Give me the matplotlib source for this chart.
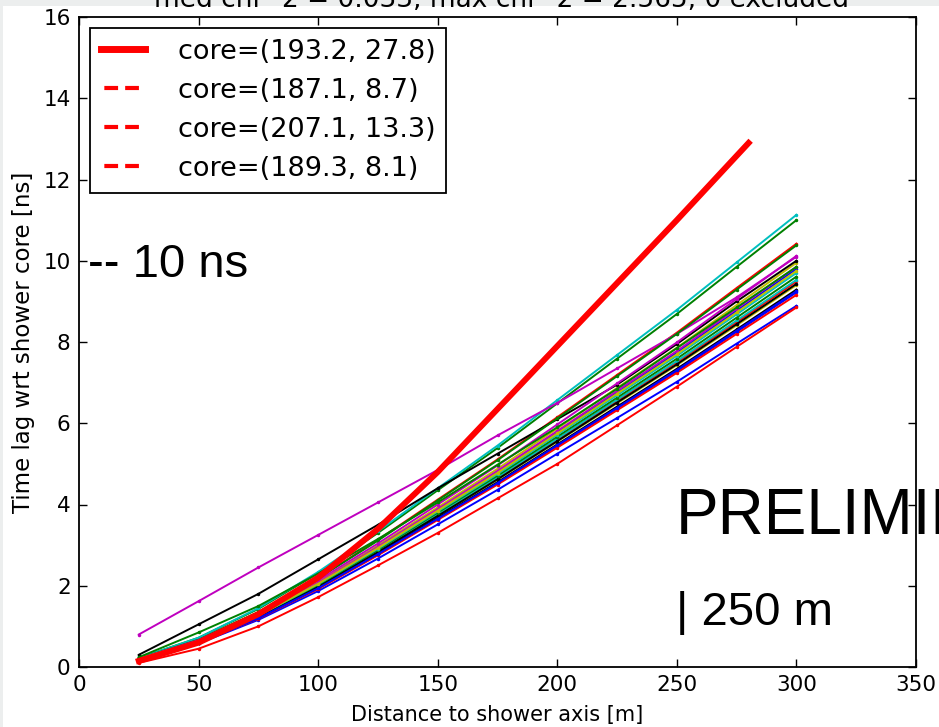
import matplotlib
matplotlib.use("Agg")
import matplotlib.pyplot as plt
from matplotlib.patches import Rectangle

# ---------------- data ----------------
distances = [25, 50, 75, 100, 125, 150, 175, 200, 225, 250, 275, 300]

core_label = "core=(193.2, 27.8)"
core_x = [25, 50, 75, 100, 125, 150, 175, 200, 225, 250, 280]
core_t = [0.15, 0.6, 1.3, 2.2, 3.4, 4.8, 6.35, 7.9, 9.45, 11.0, 12.9]

other_cores = ["core=(187.1, 8.7)", "core=(207.1, 13.3)", "core=(189.3, 8.1)"]

antenna_colors = ["b", "g", "r", "c", "m", "y", "k",
                  "b", "g", "r", "c", "m", "y", "k",
                  "b", "g", "r", "c", "m", "y", "k",
                  "b", "g", "r"]

antenna_lags = [
    [0.20, 0.64, 1.27, 2.06, 2.94, 3.87, 4.80, 5.78, 6.76, 7.74, 8.77, 9.80],
    [0.22, 0.72, 1.43, 2.31, 3.30, 4.35, 5.39, 6.49, 7.59, 8.69, 9.85, 11.00],
    [0.21, 0.68, 1.35, 2.19, 3.13, 4.12, 5.11, 6.15, 7.19, 8.23, 9.33, 10.42],
    [0.22, 0.72, 1.45, 2.34, 3.34, 4.40, 5.45, 6.57, 7.68, 8.79, 9.96, 11.13],
    [0.80, 1.62, 2.45, 3.25, 4.05, 4.85, 5.70, 6.50, 7.35, 8.20, 9.10, 10.10],
    [0.20, 0.65, 1.29, 2.09, 2.99, 3.93, 4.88, 5.87, 6.87, 7.86, 8.91, 9.95],
    [0.30, 1.05, 1.80, 2.65, 3.50, 4.40, 5.25, 6.10, 6.95, 7.95, 9.00, 10.00],
    [0.18, 0.60, 1.20, 1.94, 2.77, 3.64, 4.52, 5.44, 6.36, 7.28, 8.25, 9.22],
    [0.21, 0.67, 1.35, 2.18, 3.11, 4.10, 5.09, 6.12, 7.16, 8.20, 9.29, 10.38],
    [0.19, 0.62, 1.23, 1.99, 2.85, 3.75, 4.65, 5.60, 6.55, 7.50, 8.49, 9.49],
    [0.19, 0.62, 1.24, 2.00, 2.86, 3.76, 4.67, 5.62, 6.58, 7.53, 8.53, 9.53],
    [0.20, 0.66, 1.32, 2.13, 3.04, 4.00, 4.96, 5.97, 6.98, 7.99, 9.06, 10.12],
    [0.19, 0.61, 1.22, 1.97, 2.82, 3.71, 4.61, 5.55, 6.49, 7.43, 8.41, 9.40],
    [0.19, 0.61, 1.23, 1.98, 2.83, 3.72, 4.62, 5.56, 6.51, 7.45, 8.44, 9.43],
    [0.18, 0.58, 1.16, 1.87, 2.67, 3.51, 4.36, 5.25, 6.13, 7.02, 7.96, 8.89],
    [0.19, 0.62, 1.25, 2.02, 2.88, 3.80, 4.71, 5.67, 6.63, 7.59, 8.60, 9.61],
    [0.18, 0.60, 1.19, 1.92, 2.75, 3.62, 4.49, 5.40, 6.32, 7.24, 8.20, 9.16],
    [0.19, 0.63, 1.26, 2.04, 2.91, 3.83, 4.75, 5.72, 6.69, 7.66, 8.68, 9.70],
    [0.20, 0.64, 1.28, 2.07, 2.96, 3.89, 4.83, 5.81, 6.80, 7.78, 8.82, 9.85],
    [0.20, 0.63, 1.27, 2.05, 2.93, 3.85, 4.78, 5.75, 6.73, 7.70, 8.73, 9.75],
    [0.19, 0.60, 1.21, 1.95, 2.79, 3.67, 4.55, 5.48, 6.41, 7.34, 8.31, 9.29],
    [0.19, 0.60, 1.20, 1.94, 2.78, 3.65, 4.53, 5.46, 6.38, 7.31, 8.28, 9.25],
    [0.24, 0.85, 1.50, 2.30, 3.15, 4.05, 4.98, 5.90, 6.85, 7.85, 8.85, 9.85],
    [0.10, 0.45, 1.00, 1.72, 2.50, 3.30, 4.15, 5.00, 5.95, 6.90, 7.88, 8.85],
]

title_text = "med chi^2 = 0.033, max chi^2 = 2.565, 0 excluded"
xlabel = "Distance to shower axis [m]"
ylabel = "Time lag wrt shower core [ns]"

# ---------------- figure ----------------
W, H = 939, 727
fig = plt.figure(figsize=(W / 100, H / 100), dpi=100, facecolor="white")
ax = fig.add_axes([79 / W, 1 - 667 / H, (916 - 79) / W, (667 - 17) / H])

for col, lag in zip(antenna_colors, antenna_lags):
    ax.plot(distances, lag, color=col, lw=1.4, marker=".", markersize=3, zorder=2)

ax.plot(core_x, core_t, color="red", lw=4.3, solid_capstyle="projecting",
        label=core_label, zorder=3)
for lab in other_cores:
    ax.plot([], [], color="red", ls=(4.2, (3.3, 1.7)), lw=3.0, label=lab)

ax.set_xlim(0, 350)
ax.set_ylim(0, 16)
ax.set_xticks([0, 50, 100, 150, 200, 250, 300, 350])
ax.set_yticks([0, 2, 4, 6, 8, 10, 12, 14, 16])
ax.tick_params(direction="in", length=6, width=1, labelsize=15.5,
               top=True, right=True, pad=6)
for s in ax.spines.values():
    s.set_linewidth(1.3)
ax.set_xlabel(xlabel, fontsize=15, labelpad=7)
ax.set_ylabel(ylabel, fontsize=16.5, labelpad=6)

leg = ax.legend(loc="upper left", fontsize=19.5, fancybox=False,
                edgecolor="black", framealpha=1, handlelength=1.65,
                borderaxespad=0.4, borderpad=0.4, labelspacing=0.48,
                handletextpad=1.2)
leg.get_frame().set_linewidth(1.3)
leg.get_lines()[0].set_linewidth(5)

# overlay annotations
ann_font = ["Liberation Sans", "DejaVu Sans"]
fig.text(88 / W, 1 - 277 / H, "-- 10 ns", fontsize=34, family=ann_font,
         va="baseline", ha="left")
fig.text(676 / W, 1 - 534 / H, "PRELIMINARY", fontsize=46, family=ann_font,
         va="baseline", ha="left")
fig.text(676 / W, 1 - 625 / H, "| 250 m", fontsize=34, family=ann_font,
         va="baseline", ha="left")

# cropped title and gray screen frame
fig.patches.append(Rectangle((0, 1 - 6 / H), 1, 6 / H, transform=fig.transFigure,
                             facecolor="#eceeee", edgecolor="none", zorder=0))
fig.patches.append(Rectangle((0, 0), 3 / W, 1, transform=fig.transFigure,
                             facecolor="#eceeee", edgecolor="none", zorder=0))
fig.text(501 / W, 1 - 7 / H, title_text, fontsize=19, ha="center",
         va="baseline", zorder=1)

fig.savefig("out.png", dpi=100, facecolor="white")
